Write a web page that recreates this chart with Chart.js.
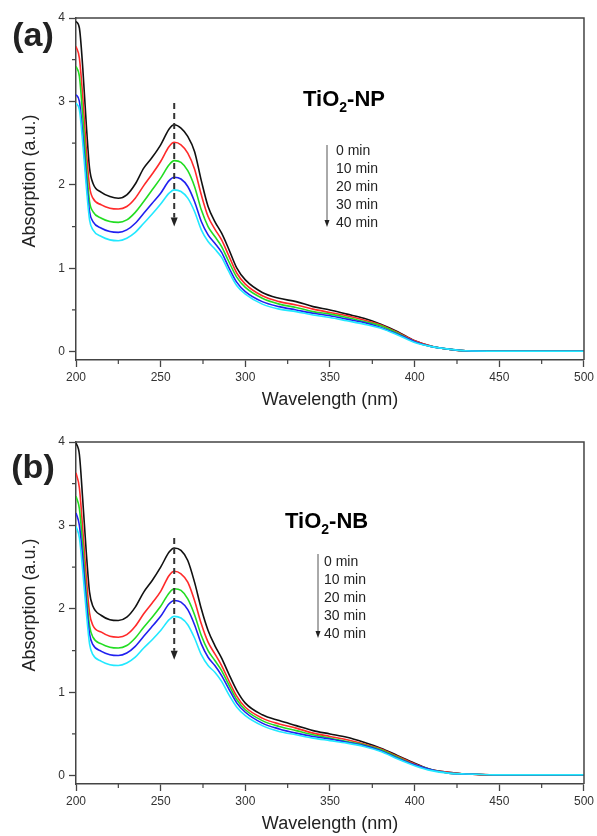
<!DOCTYPE html>
<html>
<head>
<meta charset="utf-8">
<script src="https://cdn.jsdelivr.net/npm/chart.js@4.4.1/dist/chart.umd.min.js"></script>
<style>
  body { margin: 0; background: #fff; }
  canvas { display: block; }
</style>
</head>
<body>
<canvas id="chartA" width="597" height="418"></canvas>
<canvas id="chartB" width="597" height="418"></canvas>
<script>
// wavelength grid (nm) shared by every spectrum
const wavelengths = [
  200, 202, 204, 206, 208, 210,
  215, 220, 225, 230, 235, 240, 245, 250, 255,
  258, 262, 266, 270, 274, 278, 282, 286, 290,
  295, 300,
  310, 320, 330, 340, 350, 360, 370, 380, 390, 400,
  410, 420, 430, 450, 500
]

const timeLabels = ['0 min', '10 min', '20 min', '30 min', '40 min']
const lineColors = ['#111111', '#ff2a2a', '#22dd22', '#2020f0', '#22e8ff']

// (a) TiO2-NP
const npAbs0 = [
  3.96, 3.88, 3.4, 2.75, 2.2, 2.02,
  1.91, 1.86, 1.84, 1.88, 2.01, 2.2, 2.33, 2.48, 2.67,
  2.72, 2.68, 2.58, 2.4, 2.05, 1.74, 1.56, 1.42, 1.24,
  1.0, 0.86,
  0.71, 0.64, 0.6, 0.54, 0.5, 0.45, 0.4, 0.33, 0.24, 0.13,
  0.065, 0.03, 0.01, 0.005, 0.005
]
const npAbs10 = [
  3.66, 3.52, 3.05, 2.45, 1.98, 1.84,
  1.76, 1.72, 1.71, 1.74, 1.84, 1.99, 2.13, 2.28, 2.46,
  2.51, 2.48, 2.38, 2.19, 1.88, 1.62, 1.47, 1.34, 1.16,
  0.94, 0.81,
  0.67, 0.6, 0.56, 0.51, 0.47, 0.43, 0.38, 0.32, 0.23, 0.13,
  0.065, 0.03, 0.01, 0.005, 0.005
]
const npAbs20 = [
  3.42, 3.3, 2.82, 2.25, 1.8, 1.68,
  1.6, 1.56, 1.55, 1.58, 1.67, 1.8, 1.94, 2.08, 2.24,
  2.29, 2.27, 2.17, 1.98, 1.7, 1.5, 1.38, 1.26, 1.09,
  0.89, 0.77,
  0.64, 0.57, 0.53, 0.48, 0.45, 0.41, 0.36, 0.31, 0.22, 0.12,
  0.06, 0.03, 0.01, 0.005, 0.005
]
const npAbs30 = [
  3.08, 3.0, 2.6, 2.1, 1.68, 1.56,
  1.48, 1.44, 1.43, 1.46, 1.54, 1.66, 1.78, 1.9, 2.05,
  2.09, 2.07, 1.98, 1.8, 1.56, 1.4, 1.3, 1.19, 1.02,
  0.83, 0.72,
  0.6, 0.54, 0.5, 0.46, 0.43, 0.39, 0.35, 0.29, 0.21, 0.12,
  0.06, 0.03, 0.01, 0.005, 0.005
]
const npAbs40 = [
  2.98, 2.9, 2.5, 2.0, 1.58, 1.46,
  1.38, 1.34, 1.33, 1.36, 1.43, 1.54, 1.65, 1.77, 1.9,
  1.94, 1.92, 1.84, 1.68, 1.46, 1.32, 1.23, 1.13, 0.97,
  0.79, 0.69,
  0.57, 0.51, 0.48, 0.44, 0.41, 0.37, 0.33, 0.28, 0.2, 0.11,
  0.06, 0.03, 0.01, 0.005, 0.005
]

// (b) TiO2-NB
const nbAbs0 = [
  3.99, 3.85, 3.3, 2.7, 2.2, 2.03,
  1.92, 1.87, 1.86, 1.9, 2.02, 2.2, 2.34, 2.5, 2.68,
  2.73, 2.7, 2.58, 2.32, 2.0, 1.74, 1.56, 1.41, 1.23,
  1.02, 0.87,
  0.73, 0.66, 0.6, 0.54, 0.5, 0.46, 0.4, 0.33, 0.24, 0.15,
  0.07, 0.04, 0.02, 0.01, 0.01
]
const nbAbs10 = [
  3.63, 3.45, 2.95, 2.4, 1.95, 1.8,
  1.72, 1.67, 1.66, 1.69, 1.79, 1.94, 2.07, 2.21, 2.4,
  2.45, 2.42, 2.32, 2.1, 1.82, 1.6, 1.46, 1.32, 1.15,
  0.95, 0.82,
  0.69, 0.62, 0.57, 0.51, 0.47, 0.43, 0.38, 0.32, 0.23, 0.14,
  0.07, 0.04, 0.02, 0.01, 0.01
]
const nbAbs20 = [
  3.35, 3.2, 2.75, 2.2, 1.8, 1.66,
  1.58, 1.54, 1.53, 1.56, 1.65, 1.78, 1.9, 2.03, 2.19,
  2.24, 2.22, 2.12, 1.93, 1.68, 1.5, 1.38, 1.26, 1.1,
  0.91, 0.79,
  0.66, 0.59, 0.54, 0.49, 0.45, 0.41, 0.37, 0.31, 0.22, 0.13,
  0.07, 0.03, 0.02, 0.01, 0.01
]
const nbAbs30 = [
  3.15, 3.0, 2.6, 2.1, 1.7, 1.57,
  1.49, 1.45, 1.44, 1.47, 1.55, 1.67, 1.79, 1.91, 2.06,
  2.1, 2.08, 1.99, 1.81, 1.58, 1.42, 1.32, 1.2, 1.05,
  0.87, 0.76,
  0.63, 0.56, 0.51, 0.47, 0.44, 0.4, 0.36, 0.3, 0.21, 0.13,
  0.07, 0.03, 0.02, 0.01, 0.01
]
const nbAbs40 = [
  2.99, 2.85, 2.45, 1.98, 1.58, 1.45,
  1.37, 1.33, 1.32, 1.35, 1.42, 1.53, 1.63, 1.74, 1.87,
  1.91, 1.89, 1.81, 1.65, 1.45, 1.32, 1.24, 1.13, 0.98,
  0.82, 0.72,
  0.6, 0.53, 0.49, 0.45, 0.42, 0.39, 0.35, 0.29, 0.2, 0.12,
  0.06, 0.03, 0.02, 0.01, 0.01
]

// axis ticks
const xTickValues = [200, 250, 300, 350, 400, 450, 500]
const xMinorTicks = [225, 275, 325, 375, 425, 475]
const yTickValues = [0, 1, 2, 3, 4]
const yMinorTicks = [0.5, 1.5, 2.5, 3.5]

const AXIS_COLOR = '#444'
const FONT = 'Arial, "Liberation Sans", sans-serif'

/**
 * Draws the frame, the minor ticks, the y title and the annotations.
 */
const decorPlugin = {
  id: 'decor',
  afterDraw (chart, args, o) {
    const { ctx, chartArea: a, scales: { x, y } } = chart
    ctx.save()

    // top and right side of the box
    ctx.strokeStyle = AXIS_COLOR
    ctx.lineWidth = 1.5
    ctx.beginPath()
    ctx.moveTo(a.left, a.top)
    ctx.lineTo(a.right, a.top)
    ctx.lineTo(a.right, a.bottom)
    ctx.stroke()

    // minor ticks
    ctx.lineWidth = 1.2
    ctx.beginPath()
    xMinorTicks.forEach(v => {
      const px = x.getPixelForValue(v)
      ctx.moveTo(px, a.bottom)
      ctx.lineTo(px, a.bottom + 4)
    })
    yMinorTicks.forEach(v => {
      const py = y.getPixelForValue(v)
      ctx.moveTo(a.left, py)
      ctx.lineTo(a.left - 4, py)
    })
    ctx.stroke()

    // y title
    ctx.fillStyle = '#222'
    ctx.font = '18px ' + FONT
    ctx.textAlign = 'center'
    ctx.textBaseline = 'middle'
    ctx.save()
    ctx.translate(30, o.yTitleY)
    ctx.rotate(-Math.PI / 2)
    ctx.fillText('Absorption (a.u.)', 0, 0)
    ctx.restore()

    // panel tag
    ctx.fillStyle = '#222'
    ctx.font = 'bold 34px ' + FONT
    ctx.textBaseline = 'alphabetic'
    ctx.fillText(o.tag, 33, o.tagY)

    // sample name with subscript
    ctx.textAlign = 'left'
    ctx.fillStyle = '#000'
    let sx = o.nameX
    ctx.font = 'bold 22px ' + FONT
    ctx.fillText('TiO', sx, o.nameY)
    sx += ctx.measureText('TiO').width
    ctx.font = 'bold 14px ' + FONT
    ctx.fillText('2', sx, o.nameY + 6)
    sx += ctx.measureText('2').width
    ctx.font = 'bold 22px ' + FONT
    ctx.fillText(o.nameTail, sx, o.nameY)

    // time list with arrow
    ctx.fillStyle = '#222'
    ctx.font = '14px ' + FONT
    timeLabels.forEach((t, i) => {
      ctx.fillText(t, o.listX, o.listY + i * 18)
    })
    ctx.strokeStyle = '#555'
    ctx.lineWidth = 1
    ctx.beginPath()
    ctx.moveTo(o.arrowX, o.arrowTop)
    ctx.lineTo(o.arrowX, o.arrowBottom - 5)
    ctx.stroke()
    ctx.fillStyle = '#222'
    ctx.beginPath()
    ctx.moveTo(o.arrowX - 2.5, o.arrowBottom - 7)
    ctx.lineTo(o.arrowX + 2.5, o.arrowBottom - 7)
    ctx.lineTo(o.arrowX, o.arrowBottom)
    ctx.closePath()
    ctx.fill()

    // dashed arrow over the 258 nm band
    const dx = x.getPixelForValue(o.dashAt)
    const dTop = y.getPixelForValue(o.dashFrom)
    const dTip = y.getPixelForValue(o.dashTo)
    ctx.strokeStyle = '#333'
    ctx.lineWidth = 2
    ctx.setLineDash([6, 4])
    ctx.beginPath()
    ctx.moveTo(dx, dTop)
    ctx.lineTo(dx, dTip - 9)
    ctx.stroke()
    ctx.setLineDash([])
    ctx.fillStyle = '#222'
    ctx.beginPath()
    ctx.moveTo(dx - 3.5, dTip - 9)
    ctx.lineTo(dx + 3.5, dTip - 9)
    ctx.lineTo(dx, dTip)
    ctx.closePath()
    ctx.fill()

    ctx.restore()
  }
}

/**
 * Builds one absorption panel.
 */
function makeChart (id, series, layout, decor) {
  const datasets = series.map((vals, i) => ({
    label: timeLabels[i],
    data: wavelengths.map((w, j) => ({ x: w, y: vals[j] })),
    borderColor: lineColors[i],
    borderWidth: 1.6,
    pointRadius: 0,
    cubicInterpolationMode: 'monotone',
    order: series.length - 1 - i,
    fill: false
  }))

  return new Chart(document.getElementById(id), {
    type: 'line',
    data: { datasets },
    options: {
      responsive: false,
      animation: false,
      devicePixelRatio: 1,
      layout: { padding: { top: layout.top, right: 13, left: 0, bottom: 0 } },
      plugins: {
        legend: { display: false },
        tooltip: { enabled: false },
        decor
      },
      scales: {
        x: {
          type: 'linear',
          min: 200,
          max: 500,
          afterBuildTicks: s => { s.ticks = xTickValues.map(value => ({ value })) },
          afterFit: s => { s.height = layout.xHeight },
          ticks: { color: '#333', font: { size: 12, family: FONT }, padding: 3, maxRotation: 0 },
          grid: { drawOnChartArea: false, tickLength: 7, tickColor: AXIS_COLOR, tickWidth: 1.3 },
          border: { display: true, color: AXIS_COLOR, width: 1.5 },
          title: {
            display: true,
            text: 'Wavelength (nm)',
            color: '#222',
            font: { size: 18, family: FONT },
            padding: { top: 0, bottom: layout.xTitlePad }
          }
        },
        y: {
          type: 'linear',
          min: -0.1,
          max: 4,
          afterBuildTicks: s => { s.ticks = yTickValues.map(value => ({ value })) },
          afterFit: s => { s.width = 76 },
          ticks: { color: '#333', font: { size: 12, family: FONT }, padding: 4 },
          grid: { drawOnChartArea: false, tickLength: 7, tickColor: AXIS_COLOR, tickWidth: 1.3 },
          border: { display: true, color: AXIS_COLOR, width: 1.5 }
        }
      }
    },
    plugins: [decorPlugin]
  })
}

makeChart('chartA', [npAbs0, npAbs10, npAbs20, npAbs30, npAbs40],
  { top: 18, xHeight: 58, xTitlePad: 7 },
  {
    tag: '(a)', tagY: 46, yTitleY: 181,
    nameX: 303, nameY: 106, nameTail: '-NP',
    listX: 336, listY: 155, arrowX: 327, arrowTop: 145, arrowBottom: 227,
    dashAt: 258, dashFrom: 2.98, dashTo: 1.5
  })

makeChart('chartB', [nbAbs0, nbAbs10, nbAbs20, nbAbs30, nbAbs40],
  { top: 24, xHeight: 52, xTitlePad: 1 },
  {
    tag: '(b)', tagY: 60, yTitleY: 187,
    nameX: 285, nameY: 110, nameTail: '-NB',
    listX: 324, listY: 148, arrowX: 318, arrowTop: 136, arrowBottom: 220,
    dashAt: 258, dashFrom: 2.85, dashTo: 1.39
  })
</script>
</body>
</html>
